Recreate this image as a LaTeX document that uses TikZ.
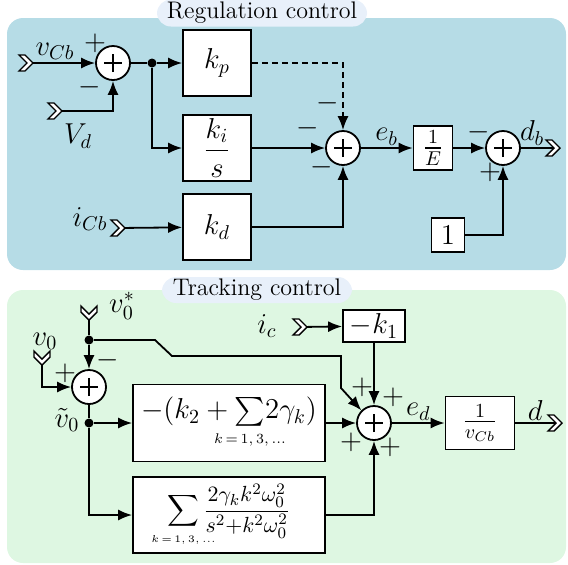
\documentclass[tikz,border=0pt]{standalone}
\usepackage{amsmath,amssymb,mathtools}
\usetikzlibrary{arrows.meta}

\definecolor{regbg}{RGB}{182,220,230}
\definecolor{trkbg}{RGB}{222,247,226}
\definecolor{pillbg}{RGB}{232,240,250}

% input/output port symbol (open chevron)
\tikzset{
  inport/.pic={\draw[fill=white,line width=0.7pt,line join=miter] (-7,-8) -- (-1,-8) -- (7,0) -- (-1,8) -- (-7,8) -- (1,0) -- cycle;}
}

\begin{document}
\begin{tikzpicture}[x=0.5pt,y=-0.5pt,
  block/.style={draw,fill=white,line width=0.9pt,inner sep=1pt,font=\Large,minimum width=34pt,minimum height=33pt},
  adder/.style={circle,draw,fill=white,line width=0.9pt,minimum size=17pt,inner sep=0pt,
    path picture={\draw[line width=1.3pt] (path picture bounding box.center) +(-4.5pt,0) -- +(4.5pt,0)
      (path picture bounding box.center) +(0,-4.5pt) -- +(0,4.5pt);}},
  junction/.style={circle,fill,inner sep=0pt,minimum size=4.5pt},
  sign/.style={font=\Large,inner sep=0pt},
  lbl/.style={font=\Large,inner sep=1pt},
  title/.style={fill=pillbg,rounded corners=7pt,font=\large,minimum width=105pt,minimum height=13.5pt,inner sep=0pt},
  arrow/.style={-{Latex[length=7pt,width=5.5pt]},line width=0.9pt},
  wire/.style={line width=0.9pt}]

\useasboundingbox (0,0) rectangle (568,564);

% panels
\fill[regbg,rounded corners=8pt] (7,18) rectangle (566,270);
\fill[trkbg,rounded corners=8pt] (7,290) rectangle (566,563);
\node[title] (regtitle) at (262,13) {Regulation control};
\node[title,minimum width=95pt,minimum height=13pt] (trktitle) at (257,290) {Tracking control};

%%% regulation loop
\coordinate (vcb) at (26,63);
\coordinate (vd) at (55,111);
\coordinate (icb) at (118,228);
\coordinate (db) at (553,148);

\node[adder] (s1) at (113,63) {};
\node[junction] (j1) at (152,63) {};
\node[block] (kp) at (217,63) {$k_p$};
\node[block] (ki) at (217,148) {$\dfrac{k_i}{s}$};
\node[block] (kd) at (217,227) {$k_d$};
\node[adder] (s2) at (343,148) {};
\node[block,minimum width=19.5pt,minimum height=22pt] (einv) at (433,148) {$\frac{1}{E}$};
\node[adder] (s3) at (503,148) {};
\node[block,minimum width=16.5pt,minimum height=17pt] (one) at (448,235) {$1$};

\node[lbl] (vcblbl) at (55,51) {$v_{Cb}$};
\node[lbl] (vdlbl) at (78,136) {$V_d$};
\node[lbl] (icblbl) at (90,219) {$i_{Cb}$};
\node[sign] (p1) at (95,43) {$+$};
\node[sign] (m1) at (90,87) {$-$};
\node[sign] (m2) at (328,103) {$-$};
\node[sign] (m3) at (308,128) {$-$};
\node[sign] (m4) at (322,167) {$-$};
\node[sign] (m5) at (479,132) {$-$};
\node[sign] (p2) at (490,172) {$+$};

\draw[arrow] (vcb) -- (s1);
\draw[arrow] (vd) -| (s1);
\draw[wire] (s1) -- (j1);
\draw[arrow] (j1) -- (kp);
\draw[arrow] (j1) |- (ki);
\draw[arrow] (icb) -- (kd);
\draw[arrow,dash pattern=on 3pt off 2pt] (kp) -| (s2);
\draw[arrow] (ki) -- (s2);
\draw[arrow] (kd) -| (s2);
\draw[arrow] (s2) -- node[above,lbl] (eblbl) {$e_b$} (einv);
\draw[arrow] (einv) -- (s3);
\draw[arrow] (one) -| (s3);
\draw[wire] (s3) -- node[pos=0.35,above,lbl] (dblbl) {$d_b$} (db);

%%% tracking loop
\coordinate (vstar) at (89,313);
\coordinate (vzero) at (42,358);
\coordinate (ic) at (300,327);
\coordinate (dout) at (555,423);

\node[junction] (j2) at (89,340) {};
\node[adder] (s4) at (89,387) {};
\node[junction] (j3) at (89,423) {};
\node[block,minimum width=96pt,minimum height=38.5pt] (gain) at (229,423)
  {$-(k_2+\sum\limits_{\mathclap{\scriptscriptstyle k\,=\,1,\,3,\,\dots}}\!2\gamma_k)$};
\node[block,font=\fontsize{11}{13}\selectfont,minimum width=96pt,minimum height=38pt] (res) at (229,515)
  {$\displaystyle\sum_{\mathclap{\scriptscriptstyle k\,=\,1,\,3,\,\dots}}\frac{2\gamma_k k^2\omega_0^2}{s^2{+}k^2\omega_0^2}$};
\node[block,minimum width=31pt,minimum height=16pt] (negk) at (374,326) {$-k_1$};
\node[adder] (s5) at (374,423) {};
\node[block,minimum width=34.5pt,minimum height=26.5pt] (invv) at (480,423) {$\frac{1}{v_{Cb}}$};

\node[lbl] (vstarlbl) at (122,306) {$v_0^*$};
\node[lbl] (vzerolbl) at (45,341) {$v_0$};
\node[lbl] (vtlbl) at (67,420) {$\tilde v_0$};
\node[lbl] (iclbl) at (267,326) {$i_c$};
\node[sign] (p3) at (65,373) {$+$};
\node[sign] (m6) at (108,360) {$-$};
\node[sign] (p4) at (362,387) {$+$};
\node[sign] (p5) at (393,397) {$+$};
\node[sign] (p6) at (351,442) {$+$};
\node[sign] (p7) at (390,447) {$+$};

\draw[wire] (vstar) -- (j2);
\draw[arrow] (j2) -- (s4);
\draw[arrow] (vzero) |- (s4);
\draw[wire] (s4) -- (j3);
\draw[arrow] (j3) -- (gain);
\draw[arrow] (j3) |- (res);
\draw[arrow] (j2) -- (155,340) -- (172,356) -- (341,356) -- (341,388) -- (s5.north west);
\draw[arrow] (ic) -- (negk);
\draw[arrow] (negk) -- (s5);
\draw[arrow] (gain) -- (s5);
\draw[arrow] (res) -| (s5);
\draw[arrow] (s5) -- node[above,lbl] (edlbl) {$e_d$} (invv);
\draw[wire] (invv) -- node[above,lbl] (dlbl) {$d$} (dout);

% ports on top of the wires
\pic at (vcb) {inport};
\pic at (vd) {inport};
\pic at (icb) {inport};
\pic at (db) {inport};
\pic[rotate=-90] at (vstar) {inport};
\pic[rotate=-90] at (vzero) {inport};
\pic at (ic) {inport};
\pic at (dout) {inport};

\end{tikzpicture}
\end{document}
